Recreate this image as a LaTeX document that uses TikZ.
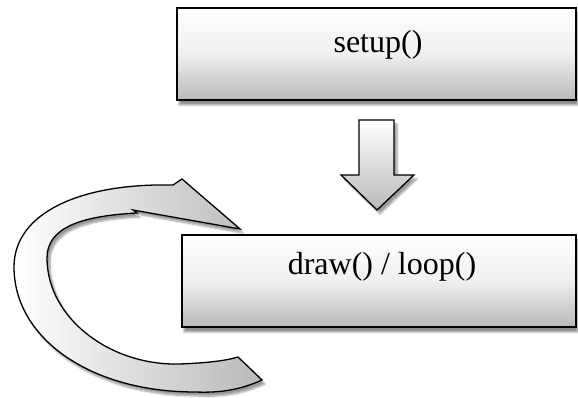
\documentclass[tikz,border=0pt]{standalone}
\usepackage{fontspec}
\setmainfont{Liberation Serif}
\usetikzlibrary{shadows,shadows.blur}
\begin{document}
\begin{tikzpicture}[x=1pt,y=1pt,
  boxshape/.style={draw=black, line width=1.6pt, top color=white, bottom color=gray!55,
    middle color=gray!12, blur shadow={shadow xshift=2pt, shadow yshift=-5pt, shadow blur steps=8, shadow opacity=45}},
  arrowshape/.style={draw=black, line width=1.3pt, line join=miter,
    blur shadow={shadow xshift=3pt, shadow yshift=-4pt, shadow blur steps=8, shadow opacity=40}},
  lbl/.style={font=\fontsize{32}{38}\selectfont, inner sep=0pt}]
\useasboundingbox (0,0) rectangle (578,398);
% boxes
\node[boxshape, minimum width=399pt, minimum height=92pt, inner sep=0pt] (setup) at (376.5,344) {};
\node[lbl] (setuplabel) at (378,353) {setup()};
\node[boxshape, minimum width=394pt, minimum height=92pt, inner sep=0pt] (drawbox) at (379,117) {};
\node[lbl] (drawlabel) at (382,131) {draw() / loop()};
% down arrow
\path[arrowshape, top color=white, bottom color=gray!55]
  (359,278) -- (394,278) -- (394,223) -- (414,223) -- (377,188) -- (341,223) -- (359,223) -- cycle;
% curved arrow
\path[arrowshape, left color=white, right color=gray!55]
  (173,213) -- (182,219) -- (240,169) -- (133,188) -- (137,185)
  .. controls (80,182) and (47,170) .. (47,140)
  .. controls (47,80) and (110,32) .. (180,34)
  .. controls (205,35) and (225,37) .. (238,41)
  -- (262,18)
  .. controls (240,8) and (220,5) .. (195,6)
  .. controls (90,6) and (14,60) .. (14,131)
  .. controls (14,185) and (80,215) .. (173,213) -- cycle;
\end{tikzpicture}
\end{document}
